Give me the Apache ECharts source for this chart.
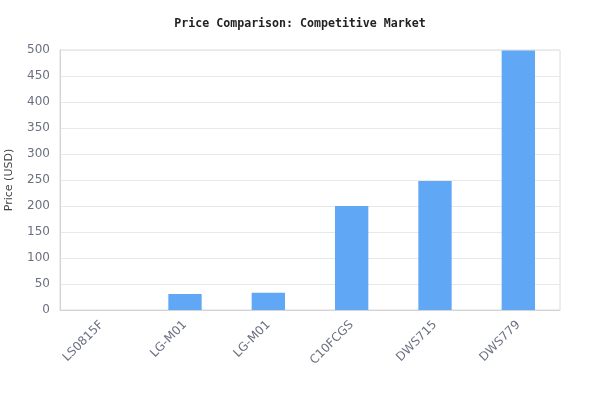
<!DOCTYPE html>
<html><head><meta charset="utf-8">
<script src="https://cdn.jsdelivr.net/npm/echarts@6/dist/echarts.min.js"></script>
<style>html,body{margin:0;padding:0;background:#fff}#c{width:600px;height:420px}</style>
</head><body><div id="c"></div>
<script>
const categories = ['LS0815F', 'LG-M01', 'LG-M01', 'C10FCGS', 'DWS715', 'DWS779'];
const prices = [0, 31, 33, 200, 248, 499];
const yTicks = { min: 0, max: 500, interval: 50 };

const chart = echarts.init(document.getElementById('c'), null, { renderer: 'canvas' });
chart.setOption({
  animation: false,
  title: {
    text: 'Price Comparison: Competitive Market',
    left: 'center', top: 13,
    textStyle: { fontFamily: 'DejaVu Sans Mono', fontWeight: 'bold', fontSize: 11.6, color: '#222' }
  },
  grid: { left: 60, right: 40, top: 50, bottom: 110, containLabel: false, outerBoundsMode: 'none',
          show: true, borderColor: '#dcdcdc', borderWidth: 1 },
  xAxis: {
    type: 'category', data: categories,
    axisLine: { lineStyle: { color: '#d4d4d4' } },
    axisTick: { show: false },
    axisLabel: { rotate: 45, color: '#6b7080', fontFamily: 'DejaVu Sans', fontSize: 12, interval: 0, margin: 13 }
  },
  yAxis: {
    type: 'value', min: yTicks.min, max: yTicks.max, interval: yTicks.interval,
    name: 'Price (USD)', nameLocation: 'middle', nameGap: 45,
    nameTextStyle: { color: '#444', fontFamily: 'DejaVu Sans', fontSize: 11 },
    axisLine: { show: true, lineStyle: { color: '#d4d4d4' } },
    axisTick: { show: false },
    axisLabel: { color: '#6b7080', fontFamily: 'DejaVu Sans', fontSize: 12, margin: 10 },
    splitLine: { lineStyle: { color: '#e8e8e8' } }
  },
  series: [{
    type: 'bar', data: prices, barWidth: '40%',
    itemStyle: { color: '#60a8f5' }
  }]
});
</script></body></html>
